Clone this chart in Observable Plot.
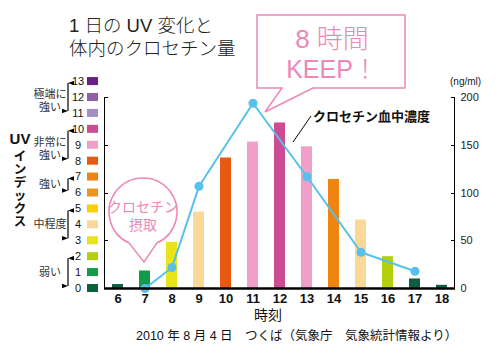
<!DOCTYPE html>
<html><head><meta charset="utf-8">
<script src="https://cdn.jsdelivr.net/npm/d3@7"></script>
<script src="https://cdn.jsdelivr.net/npm/@observablehq/plot@0.6"></script>
<style>
body{margin:0;background:#fff;}
#chart{position:relative;width:500px;height:361px;}
svg text{font-family:"Liberation Sans","Noto Sans CJK JP",sans-serif;}
</style></head><body><div id="chart"></div>
<script>
// ---- data ----
const hours = [6,7,8,9,10,11,12,13,14,15,16,17,18];
const uvIndex = [0.25,1.1,2.9,4.8,8.2,9.2,10.4,8.9,6.85,4.3,2.0,0.6,0.2];
const uvLevel = [0,1,3,4,8,9,10,9,7,4,2,0,0];
const concHours = [7,8,9,11,13,15,17];
const concValues = [0,22,107,194,117,38,18];
const concTicks = [0,50,100,150,200];
const uvTicks = [0,3,6,9,12];
const levels = [0,1,2,3,4,5,6,7,8,9,10,11,12,13];
const levelColors = ["#0c6040","#109c48","#b4d00c","#e8e418","#fcd898","#fcd000","#f09418","#f08410","#e85810","#f0a0c8","#cc4c94","#a88cc8","#9160a8","#6b1f84"];
const groupLo = [0,3,6,8,11];
const groupHi = [2,5,7,10,13];
const groupLabels = [["弱い"],["中程度"],["強い"],["非常に","強い"],["極端に","強い"]];
const titleLines = ["1 日の UV 変化と","体内のクロセチン量"];
const calloutLines = ["8 時間","KEEP！"];
const bubbleLines = ["クロセチン","摂取"];
const seriesLabel = "クロセチン血中濃度";
const unitLabel = "(ng/ml)";
const xLabel = "時刻";
const yLabelTop = "UV";
const yLabelChars = ["イ","ン","デ","ッ","ク","ス"];
const caption = "2010 年 8 月 4 日　つくば（気象庁　気象統計情報より）";

const uvMax = 12, concMax = 200;
const toUV = c => c * uvMax / concMax;

const uvData = hours.map((h,i)=>({hour:h, uv:uvIndex[i], level:uvLevel[i]}));
const concData = concHours.map((h,i)=>({hour:h, conc:concValues[i]}));

const blue = "#58c0ec", pink = "#ec88b8";

const chart = Plot.plot({
  width:500, height:361,
  marginLeft:104, marginRight:46, marginTop:97, marginBottom:73,
  style:{background:"transparent", color:"#111"},
  x:{type:"band", domain:hours, paddingInner:0.6, paddingOuter:0.28, label:null},
  y:{domain:[0,uvMax], label:null},
  color:{type:"ordinal", domain:levels, range:levelColors},
  marks:[
    Plot.barY(uvData, {x:"hour", y:"uv", fill:"level"}),
    Plot.line(concData, {x:"hour", y:d=>toUV(d.conc), stroke:blue, strokeWidth:2}),
    Plot.dot(concData, {x:"hour", y:d=>toUV(d.conc), r:4.5, fill:blue}),
    Plot.axisX({tickSize:0, tickPadding:5, fontSize:13, fontWeight:"bold", label:null}),
    Plot.axisY(concTicks.map(toUV), {anchor:"right", tickSize:0, tickPadding:6, fontSize:11, fill:"#222",
      tickFormat:v=>String(Math.round(v*concMax/uvMax)), label:null})
  ]
});
document.getElementById("chart").appendChild(chart);

const svg = d3.select(chart);
const xs = chart.scale("x"), ys = chart.scale("y"), cs = chart.scale("color");
const [xL, xR] = xs.range;
const [yB, yT] = ys.range;
const g = svg.append("g").attr("text-anchor","start");

// axis lines
g.append("line").attr("x1",xL+0.5).attr("x2",xL+0.5).attr("y1",yT).attr("y2",yB).attr("stroke","#000");
g.append("line").attr("x1",xR+0.5).attr("x2",xR+0.5).attr("y1",yT).attr("y2",yB).attr("stroke","#000");
g.append("line").attr("x1",xL).attr("x2",xR+1).attr("y1",yB+0.5).attr("y2",yB+0.5).attr("stroke","#000").attr("stroke-width",2.5);
for (const t of uvTicks) {
  const y = Math.round(ys.apply(t))+0.5;
  g.append("line").attr("x1",xL).attr("x2",xL+4).attr("y1",y).attr("y2",y).attr("stroke","#000");
}
for (const t of concTicks) {
  const y = Math.round(ys.apply(toUV(t)))+0.5;
  g.append("line").attr("x1",xR-3).attr("x2",xR+1).attr("y1",y).attr("y2",y).attr("stroke","#000");
}

// UV legend
for (const l of levels) {
  const y = ys.apply(l);
  g.append("rect").attr("x",87).attr("y",y-4).attr("width",11).attr("height",8).attr("fill",cs.apply(l));
  g.append("text").attr("x",78).attr("y",y).attr("dy","0.35em").attr("text-anchor","middle")
    .attr("font-size",11).attr("fill","#111").text(l);
}
const defs = svg.append("defs");
defs.append("marker").attr("id","ah").attr("viewBox","0 0 6 8").attr("refX",3).attr("refY",0)
  .attr("markerWidth",4).attr("markerHeight",5).attr("orient","auto-start-reverse")
  .append("path").attr("d","M0,8L3,0L6,8Z").attr("fill","#000");
groupLo.forEach((lo,i)=>{
  const hi = groupHi[i];
  const y1 = ys.apply(hi)-1, y2 = ys.apply(lo)+1;
  g.append("line").attr("x1",68).attr("x2",68).attr("y1",y1+3).attr("y2",y2-3)
    .attr("stroke","#000").attr("stroke-width",1.2)
    .attr("marker-start","url(#ah)").attr("marker-end","url(#ah)");
  const mid = ys.apply((lo+hi)/2);
  const lines = groupLabels[i];
  lines.forEach((s,j)=>{
    const yy = lines.length===1 ? mid : mid - 3 + j*13;
    g.append("text").attr("x",50).attr("y",yy).attr("dy","0.35em").attr("text-anchor","middle")
      .attr("font-size",11).attr("fill","#333").text(s);
  });
});
// vertical y label
g.append("text").attr("x",20).attr("y",139).attr("dy","0.35em").attr("text-anchor","middle")
  .attr("font-size",15).attr("font-weight","bold").text(yLabelTop);
yLabelChars.forEach((c,i)=>{
  g.append("text").attr("x",20).attr("y",157+i*13).attr("dy","0.35em").attr("text-anchor","middle")
    .attr("font-size",12.5).attr("font-weight","bold").text(c);
});

// title
titleLines.forEach((s,i)=>{
  g.append("text").attr("x",69).attr("y",32+i*23).attr("font-size",18.5).attr("font-weight",300)
    .attr("fill","#222").text(s);
});

// callout box
g.append("path").attr("d","M257,15H405V88H313L265,112L282,88H257Z")
  .attr("fill","#fff").attr("stroke",pink).attr("stroke-width",1.5);
calloutLines.forEach((s,i)=>{
  g.append("text").attr("x",332).attr("y",48+i*30).attr("text-anchor","middle")
    .attr("font-size",i===0?26:25).attr("font-weight",300).attr("fill",pink).text(s);
});

// series label + leader
g.append("line").attr("x1",311).attr("y1",116).attr("x2",293).attr("y2",142).attr("stroke","#000");
g.append("text").attr("x",313).attr("y",121).attr("font-size",13).attr("font-weight","bold").text(seriesLabel);

// unit label
g.append("text").attr("x",450).attr("y",85).attr("font-size",10).attr("fill","#222").text(unitLabel);

// bubble
{
  const cx = 143, cy = 212, r = 34;
  const a1 = Math.PI/2 + 0.42, a2 = Math.PI/2 - 0.42;
  const p1 = [cx + r*Math.cos(a1), cy + r*Math.sin(a1)];
  const p2 = [cx + r*Math.cos(a2), cy + r*Math.sin(a2)];
  g.append("path").attr("d",`M${p2[0]},${p2[1]}A${r},${r} 0 1 0 ${p1[0]},${p1[1]}L144,262Z`)
    .attr("fill","#fff").attr("stroke",pink).attr("stroke-width",1.5);
  bubbleLines.forEach((s,i)=>{
    g.append("text").attr("x",cx).attr("y",207+i*18).attr("dy","0.35em").attr("text-anchor","middle")
      .attr("font-size",14).attr("fill",pink).text(s);
  });
}

// x label and caption
g.append("text").attr("x",268).attr("y",315).attr("dy","0.35em").attr("text-anchor","middle")
  .attr("font-size",14).attr("fill","#111").text(xLabel);
g.append("text").attr("x",136).attr("y",340).attr("font-size",12.5).attr("fill","#111").text(caption);
</script></body></html>
